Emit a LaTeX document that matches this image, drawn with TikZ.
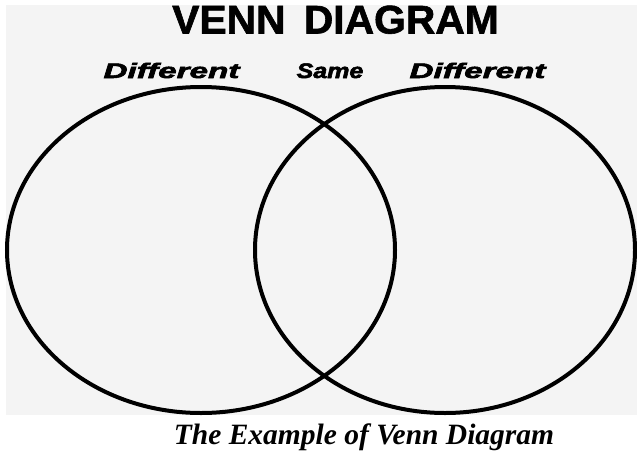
\documentclass[tikz,border=0pt]{standalone}
\usepackage{fontspec}
\setmainfont{Liberation Sans}
\newfontfamily\capfont{Liberation Serif}
\newfontfamily\titlefont[RawFeature={embolden=1.5}]{Liberation Sans Bold}
\newfontfamily\labelfont[RawFeature={embolden=2.5}]{Liberation Sans Bold Italic}
\usetikzlibrary{shapes.geometric}
\definecolor{bggray}{HTML}{F4F4F4}
\tikzset{
  vennset/.style={ellipse, draw=black, line width=4pt, inner sep=0pt},
  titletext/.style={font=\titlefont\fontsize{40}{40}\selectfont, inner sep=0pt, anchor=base},
  labeltext/.style={font=\labelfont\fontsize{21}{21}\selectfont, inner sep=0pt, anchor=base},
  captext/.style={font=\capfont\bfseries\itshape\fontsize{29.5}{29.5}\selectfont, inner sep=0pt, anchor=base}
}
\begin{document}
\begin{tikzpicture}[x=1pt,y=-1pt]
\useasboundingbox (0,0) rectangle (637,453);
\fill[white] (0,0) rectangle (637,453);
\fill[bggray] (6,5) rectangle (637,415);
\node[titletext, xscale=1.02] (title) at (335.5,33.5) {VENN\hspace{0.45em}DIAGRAM};
\node[labeltext, xscale=1.58] (difl) at (171.5,78) {Different};
\node[labeltext, xscale=1.19] (same) at (330,78) {Same};
\node[labeltext, xscale=1.58] (difr) at (477.5,78) {Different};
\node[vennset, minimum width=388pt, minimum height=326pt] (setl) at (201,250) {};
\node[vennset, minimum width=380pt, minimum height=326pt] (setr) at (445,250) {};
\node[captext] (cap) at (364,444) {The Example of Venn Diagram};
\end{tikzpicture}
\end{document}
